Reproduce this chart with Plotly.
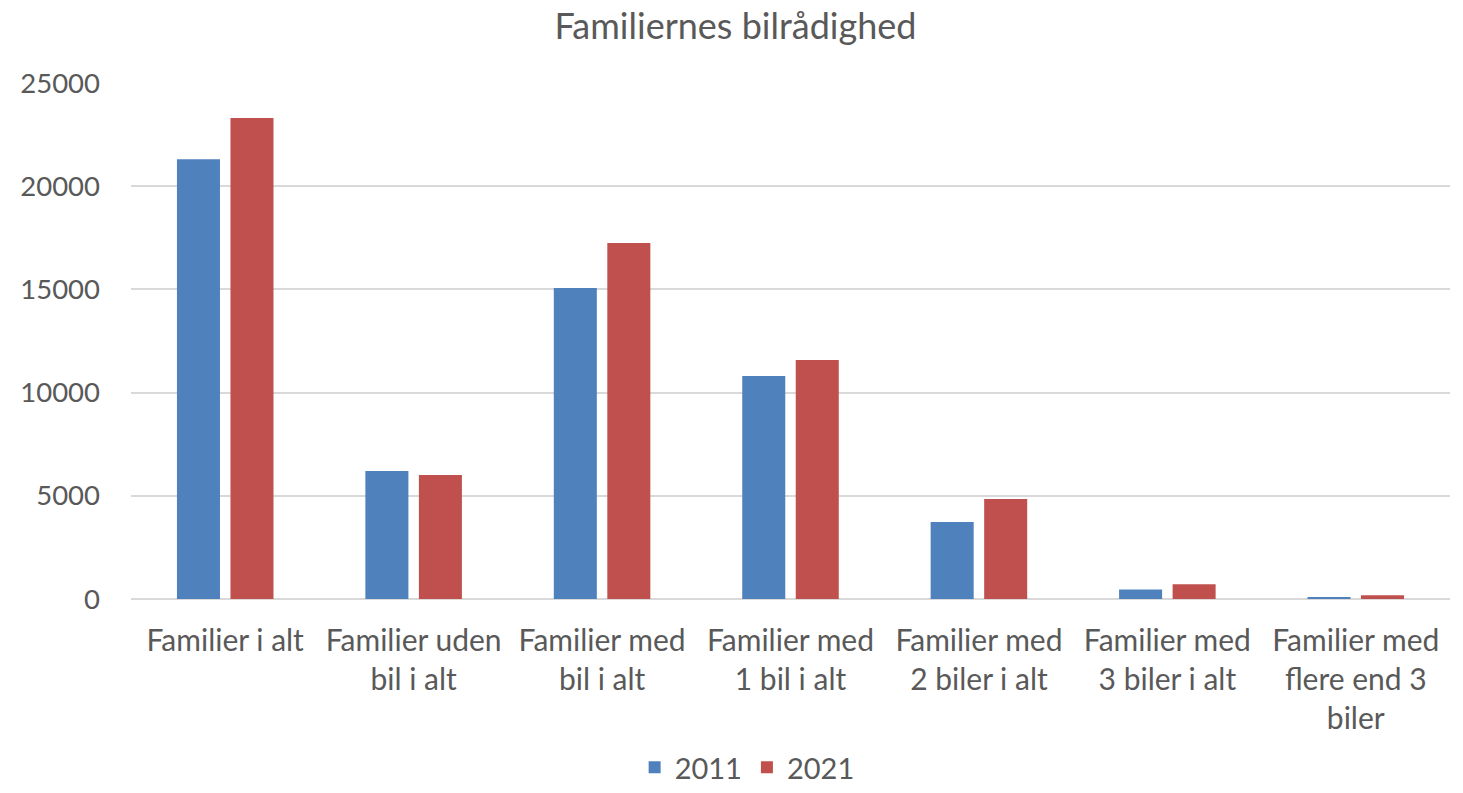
import plotly.graph_objects as go

categories = [
    "Familier i alt",
    "Familier uden<br>bil i alt",
    "Familier med<br>bil i alt",
    "Familier med<br>1 bil i alt",
    "Familier med<br>2 biler i alt",
    "Familier med<br>3 biler i alt",
    "Familier med<br>flere end 3<br>biler",
]
values_2011 = [21300, 6200, 15070, 10800, 3730, 460, 100]
values_2021 = [23300, 6010, 17250, 11580, 4845, 712, 180]

text_color = "#595959"
font_family = "Lato, 'Open Sans', sans-serif"

# page body has an 8px margin, so the figure is a bit smaller than the window
fig_w, fig_h = 1455, 785

fig = go.Figure()
fig.add_trace(go.Bar(x=categories, y=values_2011, name="2011",
                     marker=dict(color="#4F81BD", line=dict(width=0))))
fig.add_trace(go.Bar(x=categories, y=values_2021, name="2021",
                     marker=dict(color="#C0504D", line=dict(width=0))))

fig.update_layout(
    width=fig_w,
    height=fig_h,
    paper_bgcolor="white",
    plot_bgcolor="white",
    barmode="group",
    bargap=0.432,
    bargroupgap=0.196,
    margin=dict(l=123, r=13, t=75, b=194, autoexpand=False),
    font=dict(family=font_family, color=text_color, size=29),
    title=dict(text="Familiernes bilrådighed", x=0.5, xanchor="center",
               y=1 - 6 / fig_h, yanchor="top", yref="container",
               font=dict(size=36, color=text_color)),
    legend=dict(orientation="h", x=0.508, xanchor="center", xref="container",
                y=0, yref="container", yanchor="bottom",
                font=dict(size=29), itemwidth=30, traceorder="normal"),
    xaxis=dict(showgrid=False, showline=False, ticks="",
               tickfont=dict(size=30, color=text_color),
               ticklabelstandoff=21),
    yaxis=dict(range=[0, 25000], dtick=5000, showgrid=True,
               gridcolor="#D9D9D9", gridwidth=1.5, zeroline=True,
               zerolinecolor="#D9D9D9", zerolinewidth=1.5,
               tickfont=dict(size=27.5, color=text_color),
               ticklabelstandoff=30, tickformat="d"),
)

fig.write_html("out.html")
